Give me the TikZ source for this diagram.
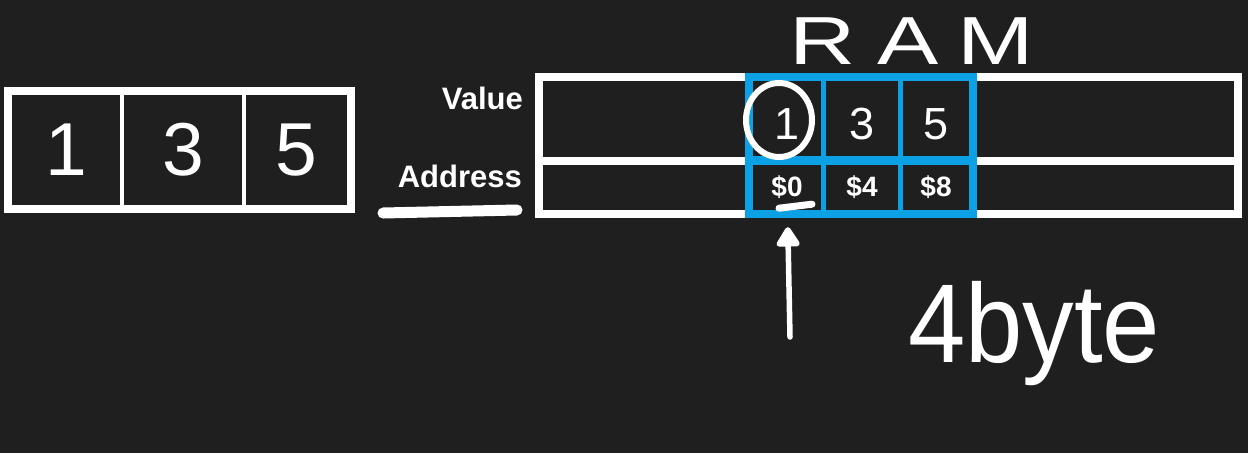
\documentclass[tikz,border=0pt]{standalone}
\usepackage{fontspec}
\setmainfont{Liberation Sans}
\usetikzlibrary{arrows.meta}
\definecolor{board}{RGB}{31,31,31}
\definecolor{ramblue}{RGB}{12,160,228}

\begin{document}
\begin{tikzpicture}[x=1pt,y=-1pt]
	\tikzset{cell/.style={fill=board,inner sep=0pt,text=white}}
	\tikzset{big/.style={cell,minimum height=110pt,font=\fontsize{75}{75}\selectfont}}
	\tikzset{val/.style={cell,minimum height=75pt,text height=42pt,font=\fontsize{45}{45}\selectfont}}
	\tikzset{addr/.style={cell,minimum height=45pt,font=\bfseries\fontsize{28}{28}\selectfont}}
	\tikzset{tag/.style={text=white,font=\bfseries\fontsize{31}{31}\selectfont,anchor=east,inner sep=0pt}}
	\tikzset{hand/.style={white,line width=5.5pt,line cap=round}}

	\fill[board] (0,0) rectangle (1248,453);
	\useasboundingbox (0,0) rectangle (1248,453);

	\fill[white] (4,87) rectangle (355,213);
	\node[big,minimum width=108pt] (l1) at (66,150) {1};
	\node[big,minimum width=118pt] (l3) at (183,150) {3};
	\node[big,minimum width=101pt] (l5) at (296.5,150) {5};

	\node[tag] (value) at (523,98) {Value};
	\node[tag] (address) at (522,176) {Address};
	\draw[hand,line width=11pt] (383,213) -- (517,210);

	\fill[white] (535,73) rectangle (1242,218);
	\fill[board] (543,81) rectangle (1234,157);
	\fill[board] (543,165) rectangle (1234,210);
	\fill[ramblue] (745,73) rectangle (977,218);

	\node[val,minimum width=68pt] (v1) at (787,118.5) {1};
	\node[val,minimum width=72pt] (v3) at (862,118.5) {3};
	\node[val,minimum width=66pt] (v5) at (936,118.5) {5};
	\node[addr,minimum width=68pt] (a0) at (787,187.5) {\$0};
	\node[addr,minimum width=72pt] (a4) at (862,187.5) {\$4};
	\node[addr,minimum width=66pt] (a8) at (936,187.5) {\$8};

	\draw[hand,line width=6pt] (v1.center) ++(-8,1.5) ellipse [x radius=33pt,y radius=37pt];
	\draw[hand,line width=7pt] (a0.south) ++(-8,-2) -- ++(33,-4);

	\node[text=white,font=\fontsize{68}{68}\selectfont,xscale=1.35,inner sep=0pt] (ram) at (911.5,41) {R\kern16pt A\kern14pt M};
	\node[text=white,font=\fontsize{112}{112}\selectfont,xscale=0.92,anchor=base west,inner sep=0pt] (size) at (908,362) {4byte};

	\coordinate (ptr) at (790,337);
	\draw[hand,-{Triangle[length=22pt,width=26pt,round]},shorten >=17pt] (ptr) -- (a0);
\end{tikzpicture}
\end{document}
